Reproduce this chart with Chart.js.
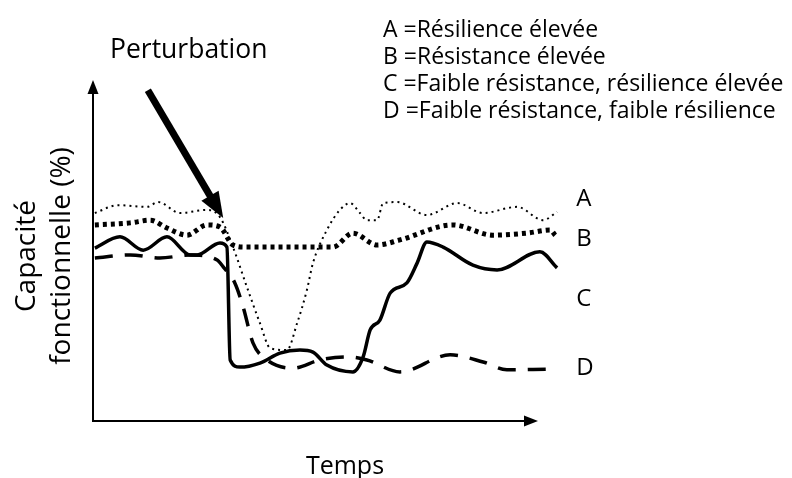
<!DOCTYPE html>
<html lang="fr">
<head>
<meta charset="utf-8">
<title>Résilience et résistance</title>
<script src="https://cdn.jsdelivr.net/npm/chart.js@4.4.1/dist/chart.umd.min.js"></script>
<style>
    html, body { margin: 0; padding: 0; background: #fff; }
    #cadre { width: 792px; height: 478px; position: relative; }
</style>
</head>
<body>
<div id="cadre"><canvas id="graphique"></canvas></div>
<script>
// Temps (0-100) et capacite fonctionnelle (%)
const tempsA = [0.4, 5.4, 11.6, 14.0, 18.7, 24.5, 27.3, 30.1, 33.1, 35.9, 38.1, 41.7, 43.9, 46.0, 47.3, 50.3, 53.1, 55.3, 57.4, 58.9, 61.1, 62.4, 65.4, 71.8, 78.3, 83.9, 91.2, 96.8, 99.8];
const capaciteA = [61.0, 63.3, 62.8, 64.2, 61.0, 61.9, 59.8, 51.0, 39.3, 28.7, 21.4, 20.8, 28.7, 38.4, 46.3, 56.0, 61.9, 63.9, 61.0, 58.9, 58.9, 63.9, 64.2, 60.4, 63.9, 61.0, 62.8, 58.9, 61.3];

const tempsB = [0.4, 8.0, 12.3, 15.9, 20.2, 24.5, 27.3, 30.1, 32.7, 42.0, 51.6, 55.9, 61.1, 66.0, 77.4, 86.0, 93.3, 98.3, 99.4];
const capaciteB = [57.5, 58.1, 58.9, 56.6, 54.5, 57.5, 56.9, 51.6, 51.0, 51.0, 51.0, 55.1, 51.6, 53.1, 57.5, 54.5, 55.1, 56.0, 54.5];

const tempsC = [0.4, 5.8, 10.8, 15.9, 20.9, 22.4, 27.3, 28.8, 29.5, 31.6, 35.9, 40.2, 44.5, 47.3, 50.3, 55.9, 58.1, 59.6, 61.7, 63.9, 67.5, 69.7, 71.8, 75.3, 81.7, 86.9, 96.1, 99.8];
const capaciteC = [50.7, 54.0, 50.1, 54.0, 48.7, 48.7, 52.2, 51.0, 17.9, 15.8, 17.0, 19.9, 20.8, 20.2, 16.4, 14.4, 18.8, 26.7, 29.6, 37.5, 40.5, 46.3, 52.5, 51.0, 45.7, 44.3, 49.6, 44.9];

const tempsD = [0.4, 8.0, 14.4, 20.9, 26.7, 28.0, 30.5, 32.3, 34.4, 37.4, 43.0, 48.8, 54.6, 58.9, 66.0, 76.8, 83.9, 89.0, 97.6];
const capaciteD = [47.8, 48.7, 47.8, 48.7, 47.2, 45.2, 40.5, 33.4, 22.9, 17.9, 15.5, 17.9, 18.8, 17.9, 14.4, 19.4, 17.3, 15.0, 15.2];

const lettres = ["A", "B", "C", "D"];
const definitions = ["Résilience élevée", "Résistance élevée", "Faible résistance, résilience élevée", "Faible résistance, faible résilience"];
// position (valeur y) des lettres au bout des courbes
const hauteursLettres = [63.0, 51.4, 33.6, 13.5];

const titreX = "Temps";
const titreY = ["Capacité", "fonctionnelle (%)"];
const texteFleche = "Perturbation";

const police = "'Open Sans', 'Noto Sans', sans-serif";

function points(xs, ys) {
    return xs.map((x, i) => ({ x: x, y: ys[i] }));
}

function serie(xs, ys, largeur, tirets) {
    return {
        data: points(xs, ys),
        borderColor: "#000",
        borderWidth: largeur,
        borderDash: tirets,
        borderCapStyle: "butt",
        pointRadius: 0,
        fill: false,
        cubicInterpolationMode: "monotone"
    };
}

function pointeFleche(ctx, x1, y1, x2, y2, longueur, largeur) {
    const ang = Math.atan2(y2 - y1, x2 - x1);
    ctx.beginPath();
    ctx.moveTo(x2, y2);
    ctx.lineTo(x2 - longueur * Math.cos(ang) + largeur / 2 * Math.sin(ang),
               y2 - longueur * Math.sin(ang) - largeur / 2 * Math.cos(ang));
    ctx.lineTo(x2 - longueur * Math.cos(ang) - largeur / 2 * Math.sin(ang),
               y2 - longueur * Math.sin(ang) + largeur / 2 * Math.cos(ang));
    ctx.closePath();
    ctx.fill();
}

// axes avec fleches, fleche de perturbation et textes
const decor = {
    id: "decor",
    afterDraw(chart) {
        const ctx = chart.ctx;
        const sx = chart.scales.x;
        const sy = chart.scales.y;
        const x0 = sx.getPixelForValue(0);
        const y0 = sy.getPixelForValue(0);
        const xFin = sx.getPixelForValue(95.7);
        const yFin = sy.getPixelForValue(100);

        ctx.save();
        ctx.strokeStyle = "#000";
        ctx.fillStyle = "#000";
        ctx.lineWidth = 2;
        ctx.setLineDash([]);
        ctx.beginPath();
        ctx.moveTo(x0, yFin + 10);
        ctx.lineTo(x0, y0);
        ctx.lineTo(xFin - 10, y0);
        ctx.stroke();
        pointeFleche(ctx, x0, y0, x0, yFin, 14, 11);
        pointeFleche(ctx, x0, y0, xFin, y0, 14, 11);

        // fleche de perturbation
        const px1 = sx.getPixelForValue(11.8), py1 = sy.getPixelForValue(97.0);
        const px2 = sx.getPixelForValue(28.0), py2 = sy.getPixelForValue(59.5);
        const ang = Math.atan2(py2 - py1, px2 - px1);
        ctx.lineWidth = 7;
        ctx.beginPath();
        ctx.moveTo(px1, py1);
        ctx.lineTo(px2 - 20 * Math.cos(ang), py2 - 20 * Math.sin(ang));
        ctx.stroke();
        pointeFleche(ctx, px1, py1, px2, py2, 26, 20);

        ctx.textBaseline = "alphabetic";
        ctx.textAlign = "left";
        ctx.font = "26.5px " + police;
        ctx.fillText(texteFleche, 110, 58);

        ctx.font = "23px " + police;
        lettres.forEach((l, i) => {
            ctx.fillText(l + " =" + definitions[i], 383, 37 + i * 27);
        });

        ctx.font = "24px " + police;
        lettres.forEach((l, i) => {
            ctx.fillText(l, sx.getPixelForValue(103.9), sy.getPixelForValue(hauteursLettres[i]));
        });

        ctx.textAlign = "center";
        ctx.font = "25px " + police;
        ctx.fillText(titreX, 345, 474);

        ctx.font = "28px " + police;
        ctx.translate(0, 256);
        ctx.rotate(-Math.PI / 2);
        ctx.fillText(titreY[0], 0, 35);
        ctx.fillText(titreY[1], 0, 70);
        ctx.restore();
    }
};

const canvas = document.getElementById("graphique");
new Chart(canvas.getContext("2d"), {
    type: "line",
    data: {
        datasets: [
            serie(tempsA, capaciteA, 2, [2, 4]),
            serie(tempsB, capaciteB, 5, [4, 4]),
            serie(tempsC, capaciteC, 3.5, []),
            serie(tempsD, capaciteD, 3.5, [18, 12])
        ]
    },
    options: {
        responsive: true,
        maintainAspectRatio: false,
        animation: false,
        layout: { padding: { left: 93, right: 234, top: 80, bottom: 57 } },
        plugins: { legend: { display: false }, tooltip: { enabled: false } },
        scales: {
            x: { type: "linear", min: 0, max: 100, display: false },
            y: { type: "linear", min: 0, max: 100, display: false }
        },
        clip: false
    },
    plugins: [decor]
});
</script>
</body>
</html>
